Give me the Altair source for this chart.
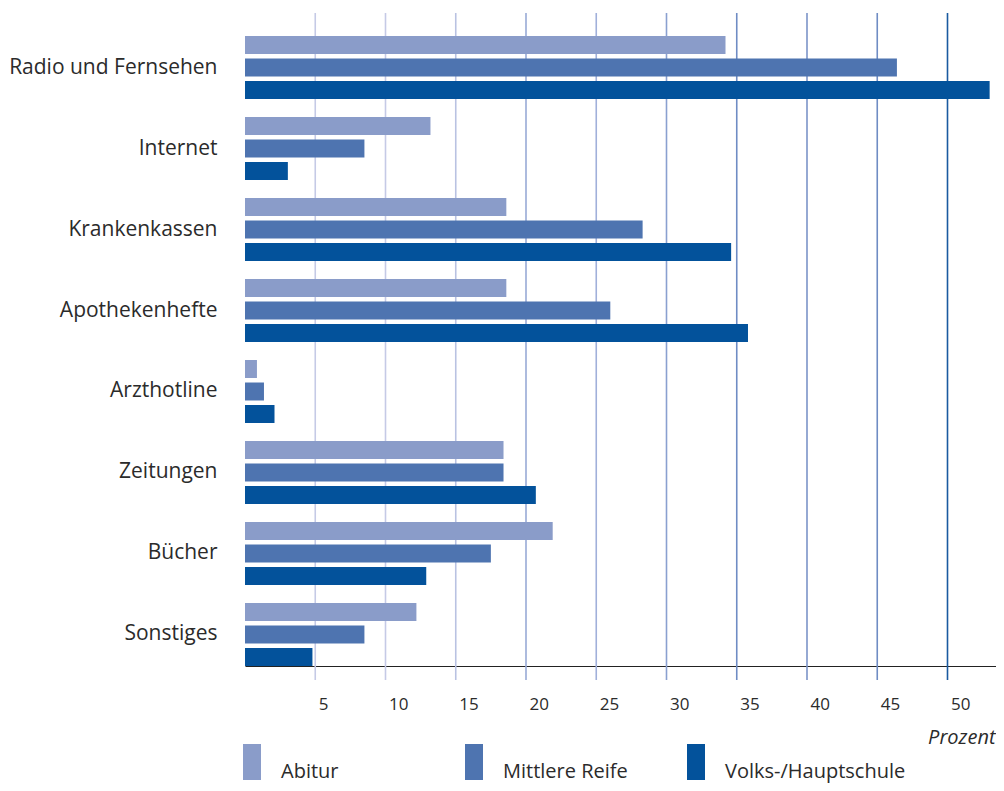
import altair as alt
import pandas as pd

categories = ["Radio und Fernsehen", "Internet", "Krankenkassen", "Apothekenhefte",
              "Arzthotline", "Zeitungen", "Bücher", "Sonstiges"]
series = ["Abitur", "Mittlere Reife", "Volks-/Hauptschule"]
abitur = [34.2, 13.2, 18.6, 18.6, 0.85, 18.4, 21.9, 12.2]
mittlere = [46.4, 8.5, 28.3, 26.0, 1.35, 18.4, 17.5, 8.5]
volks = [53.0, 3.05, 34.6, 35.8, 2.1, 20.7, 12.9, 4.8]
grid_values = [5, 10, 15, 20, 25, 30, 35, 40, 45, 50]

# styling
series_colors = ["#8a9cc9", "#4e74b0", "#03529b"]
grid_colors = ["#c5cae6", "#c5cae6", "#b9c2e2", "#98aad6", "#a0b0da",
               "#8aa0d0", "#6f8cc4", "#7b94c8", "#6f8cc4", "#1a5aa0"]
FONT = "Open Sans"
TEXT = "#2b2b2b"

rows = []
for i, c in enumerate(categories):
    for s, vals in zip(series, [abitur, mittlere, volks]):
        rows.append({"cat": c, "series": s, "value": vals[i]})
df = pd.DataFrame(rows)
grid_df = pd.DataFrame({"v": grid_values, "col": grid_colors})

W, H = 751, 630
XMAX = 751 / 14.05
xscale = alt.Scale(domain=[0, XMAX], nice=False, zero=True)

x_axis = alt.Axis(values=grid_values, title="Prozent", ticks=False, grid=False,
                  domainColor="#222222", domainWidth=1.2,
                  labelAlign="left", labelOffset=3, labelBaseline="middle",
                  labelPadding=38, labelFontSize=17, labelColor=TEXT, labelFont=FONT,
                  titleFont=FONT, titleFontStyle="italic", titleFontWeight="normal",
                  titleFontSize=20, titleColor=TEXT, titleAlign="right",
                  titleAnchor="end", titleX=W - 1, titleY=71, titleBaseline="middle")

grid = alt.Chart(grid_df).mark_rule(strokeWidth=1.6).encode(
    x=alt.X("v:Q", scale=xscale, axis=x_axis),
    y=alt.value(-23),
    y2=alt.value(H + 14),
    stroke=alt.Stroke("col:N", scale=None, legend=None),
)

bars = alt.Chart(df).mark_bar().encode(
    x=alt.X("value:Q", scale=xscale, axis=x_axis),
    y=alt.Y("cat:N", sort=categories, title=None,
            scale=alt.Scale(paddingInner=0.2222, paddingOuter=0),
            axis=alt.Axis(ticks=False, domain=False, grid=False, labelPadding=28,
                          labelFontSize=21, labelFont=FONT, labelColor=TEXT, labelLimit=300)),
    yOffset=alt.YOffset("series:N", sort=series,
                        scale=alt.Scale(paddingInner=0.2, paddingOuter=0)),
    color=alt.Color("series:N", sort=series,
                    scale=alt.Scale(domain=series, range=series_colors),
                    legend=alt.Legend(title=None, orient="none", legendX=-3, legendY=716,
                                      direction="horizontal", columns=3, gridAlign="all",
                                      columnPadding=2, padding=0,
                                      symbolType="M-1,-2L1,-2L1,2L-1,2Z",
                                      symbolSize=324, symbolStrokeWidth=0, symbolOpacity=1,
                                      labelOffset=19, labelFontSize=20, labelFont=FONT,
                                      labelColor=TEXT, labelBaseline="top", labelLimit=400)),
)

chart = alt.layer(grid, bars).properties(
    width=W, height=H,
    background="white",
    autosize=alt.AutoSizeParams(type="none"),
    padding={"left": 237, "top": 28, "right": 0, "bottom": 117},
).configure_view(strokeWidth=0, stroke="transparent").configure_axis(grid=False)

chart.save("out.html", embed_options={"renderer": "svg", "actions": False})
